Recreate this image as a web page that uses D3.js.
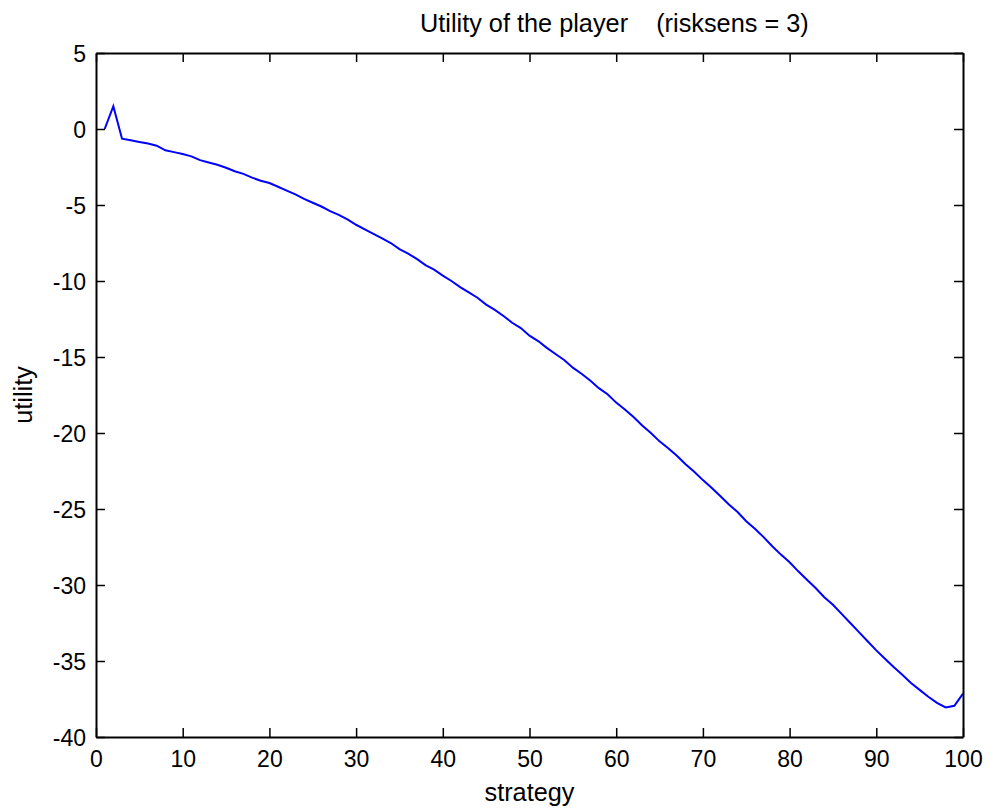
<!DOCTYPE html>
<html>
<head>
<meta charset="utf-8">
<script src="https://cdn.jsdelivr.net/npm/d3@7/dist/d3.min.js"></script>
<style>
  html, body { margin: 0; padding: 0; background: #fff; }
  svg { display: block; }
  text { font-family: "Liberation Sans", Arial, sans-serif; fill: #000; }
</style>
</head>
<body>
<svg id="chart" width="993" height="809"></svg>
<script>
// Strategy index (1..100) and the player's utility for each strategy
const strategies = d3.range(1, 101);
const utility = [
  0, 1.5, -0.64, -0.74, -0.85, -0.95, -1.10, -1.40, -1.52, -1.65,
  -1.80, -2.05, -2.20, -2.35, -2.55, -2.78, -2.95, -3.20, -3.40, -3.55,
  -3.80, -4.05, -4.30, -4.60, -4.85, -5.10, -5.40, -5.65, -5.95, -6.30,
  -6.60, -6.90, -7.20, -7.50, -7.90, -8.20, -8.55, -8.95, -9.25, -9.65,
  -10.00, -10.40, -10.75, -11.10, -11.55, -11.90, -12.30, -12.75, -13.10, -13.60,
  -13.95, -14.40, -14.80, -15.20, -15.70, -16.10, -16.55, -17.05, -17.45, -18.00,
  -18.45, -18.95, -19.50, -20.00, -20.55, -21.00, -21.50, -22.05, -22.55, -23.10,
  -23.60, -24.15, -24.70, -25.20, -25.80, -26.30, -26.85, -27.45, -28.00, -28.50,
  -29.10, -29.65, -30.20, -30.80, -31.30, -31.90, -32.50, -33.10, -33.70, -34.30,
  -34.85, -35.40, -35.90, -36.45, -36.90, -37.35, -37.75, -38.05, -37.95, -37.15
];
const xTicks = [0, 10, 20, 30, 40, 50, 60, 70, 80, 90, 100];
const yTicks = [5, 0, -5, -10, -15, -20, -25, -30, -35, -40];
const titleText = "Utility of the player    (risksens = 3)";
const xLabel = "strategy";
const yLabel = "utility";

const svg = d3.select("#chart");
const plotLeft = 96, plotRight = 963, plotTop = 53, plotBottom = 737;

const x = d3.scaleLinear().domain([0, 100]).range([plotLeft, plotRight]);
const y = d3.scaleLinear().domain([-40, 5]).range([plotBottom, plotTop]);

const tickLen = 9;
const tickFont = 23;
const labelFont = 25.3;
const plainNum = d => String(d); // ASCII hyphen for negatives

// Curve
const line = d3.line()
  .x((d, i) => x(strategies[i]))
  .y(d => y(d));

svg.append("path")
  .datum(utility)
  .attr("d", line)
  .attr("fill", "none")
  .attr("stroke", "#0000ff")
  .attr("stroke-width", 2)
  .attr("stroke-linejoin", "miter");

// Axes (ticks pointing inward, box on all four sides)
const gBottom = svg.append("g").attr("transform", `translate(0,${plotBottom})`)
  .call(d3.axisBottom(x).tickValues(xTicks).tickSizeInner(-tickLen).tickSizeOuter(0).tickFormat(plainNum));
const gTop = svg.append("g").attr("transform", `translate(0,${plotTop})`)
  .call(d3.axisTop(x).tickValues(xTicks).tickSizeInner(-tickLen).tickSizeOuter(0).tickFormat(""));
const gLeft = svg.append("g").attr("transform", `translate(${plotLeft},0)`)
  .call(d3.axisLeft(y).tickValues(yTicks).tickSizeInner(-tickLen).tickSizeOuter(0).tickFormat(plainNum));
const gRight = svg.append("g").attr("transform", `translate(${plotRight},0)`)
  .call(d3.axisRight(y).tickValues(yTicks).tickSizeInner(-tickLen).tickSizeOuter(0).tickFormat(""));

[gBottom, gTop, gLeft, gRight].forEach(g => {
  g.select(".domain").attr("stroke", "#000").attr("stroke-width", 2);
  g.selectAll(".tick line").attr("stroke", "#000").attr("stroke-width", 1.5);
  g.selectAll(".tick text")
    .style("font-family", '"Liberation Sans", Arial, sans-serif')
    .style("font-size", tickFont + "px")
    .attr("fill", "#000");
});
gBottom.selectAll(".tick text").attr("y", 30).attr("dy", 0);
gLeft.selectAll(".tick text").attr("x", -10).attr("dy", "0.36em");

// Title and axis labels
svg.append("text")
  .attr("x", 420).attr("y", 32)
  .attr("font-size", labelFont)
  .style("white-space", "pre")
  .attr("xml:space", "preserve")
  .text(titleText);

svg.append("text")
  .attr("x", (plotLeft + plotRight) / 2).attr("y", 801)
  .attr("text-anchor", "middle")
  .attr("font-size", labelFont)
  .text(xLabel);

svg.append("text")
  .attr("transform", `translate(32,${(plotTop + plotBottom) / 2}) rotate(-90)`)
  .attr("text-anchor", "middle")
  .attr("font-size", labelFont)
  .text(yLabel);
</script>
</body>
</html>
